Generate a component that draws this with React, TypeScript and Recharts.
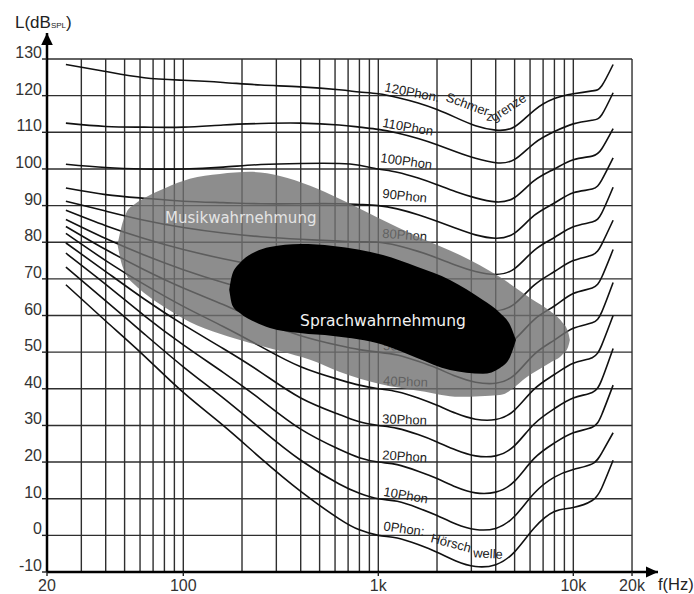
import React from "react";
import { ComposedChart, Line, Area, XAxis, YAxis, ReferenceLine, ReferenceDot, Label } from "recharts";

const FONT = "'Liberation Sans', Arial, sans-serif";
const BLOB_FONT = "'DejaVu Sans', Verdana, sans-serif";

const freqs = [25, 40, 63, 100, 160, 250, 400, 630, 800, 1000, 1250, 1600, 2000, 2500, 3150, 4000, 5000, 6300, 8000, 10000, 12500, 14000, 16000];

const phon0 = [68.4, 58.5, 49, 39, 30, 21, 12, 4.5, 1.5, 0, -0.7, -2.5, -4.6, -7, -8.5, -8, -4.5, 2, 6.5, 7.6, 9.5, 13, 20.5];
const phon10 = [73.2, 64, 55, 46, 37.5, 29, 20.5, 14, 11.5, 10, 9.3, 7.5, 5.4, 3.1, 1.6, 1.9, 5.2, 11.5, 15.9, 18, 19.5, 22.5, 28];
const phon20 = [77, 68.5, 60, 52, 44.5, 37, 29, 23.5, 21.2, 20, 19.3, 17.5, 15.5, 13.2, 11.6, 11.8, 14.8, 21, 25.2, 28, 29.5, 33, 41];
const phon30 = [79.8, 72, 64.5, 57.5, 51, 44.5, 37.5, 33, 31, 30, 29.2, 27.5, 25.5, 23.3, 21.7, 21.7, 24.5, 30.4, 34.6, 37.5, 39, 42.5, 51];
const phon40 = [82.4, 75, 68.5, 62.5, 57, 51.5, 46, 42.5, 41, 40, 39.2, 37.5, 35.5, 33.3, 31.7, 31.6, 34.2, 39.9, 43.9, 47, 48.5, 52, 60];
const phon50 = [84.3, 78, 72.5, 67.5, 63, 58.5, 54.5, 51.8, 50.7, 50, 49.2, 47.5, 45.6, 43.4, 41.8, 41.5, 43.8, 49.4, 53.3, 56.5, 58, 61, 69];
const phon60 = [86.2, 81, 76.5, 72.5, 69, 66, 63, 61.2, 60.5, 60, 59.2, 57.5, 55.6, 53.5, 51.9, 51.4, 53.5, 58.9, 62.6, 66, 67.5, 70.5, 78];
const phon70 = [88.7, 84.5, 81, 78, 75.5, 73.5, 71.8, 70.7, 70.3, 70, 69.1, 67.5, 65.6, 63.6, 61.9, 61.3, 63.2, 68.3, 72, 75, 76.5, 79.5, 86];
const phon80 = [91.2, 88.5, 86, 84, 82.5, 81.5, 80.8, 80.3, 80.1, 80, 79.1, 77.5, 75.7, 73.7, 72, 71.2, 72.8, 77.8, 81.3, 84.2, 85.5, 88, 95];
const phon90 = [94.8, 93, 92, 91.2, 90.8, 90.5, 90.5, 90.5, 90.3, 90, 89.1, 87.5, 85.7, 83.8, 82, 81.1, 82.5, 87.3, 90.7, 93.5, 94.5, 97, 103];
const phon100 = [101.3, 100.4, 100, 100, 100.5, 101.2, 101.5, 101.5, 101, 100, 99.1, 97.5, 95.7, 93.8, 92.1, 91, 92.2, 96.8, 100, 102.5, 103.5, 105.5, 111];
const phon110 = [112.5, 111.6, 111.4, 111.4, 112, 112.4, 112.5, 112, 111.4, 110.8, 109.8, 108.3, 106.6, 104.7, 102.9, 101.7, 102.6, 107, 110.2, 112.3, 113.3, 114.8, 120.8];
const phon120 = [128.5, 126.6, 124.9, 124.2, 123.6, 122.9, 122.4, 121.6, 121, 120.5, 119.5, 118, 116.2, 114, 111.8, 110.6, 111.5, 116, 119.2, 120.5, 121.3, 122.7, 128.5];

const contours = [phon0, phon10, phon20, phon30, phon40, phon50, phon60, phon70, phon80, phon90, phon100, phon110, phon120];

// "Musikwahrnehmung" area: lower / upper edge
const musikFreqs = [46, 48, 51, 56.5, 65, 81, 108, 154, 220, 313, 447, 636, 1020, 1640, 2620, 4200, 6000, 7600, 8750, 9400, 9600];
const musikLow = [79.3, 74.6, 71.1, 68.3, 65.6, 62.1, 58.2, 55, 52.5, 50.3, 47.9, 44.6, 41.3, 39.4, 37.8, 38.3, 43.8, 47.1, 49.2, 51.4, 53.3];
const musikHigh = [79.3, 83.9, 88, 90.4, 92.4, 94.8, 97.3, 98.6, 99.2, 98.1, 95.4, 91.8, 86.4, 81.2, 76.5, 70.5, 64.8, 61.2, 58.2, 55.5, 53.3];

// "Sprachwahrnehmung" area
const spracheFreqs = [172, 178, 195, 233, 278, 397, 586, 1057, 1580, 2330, 3440, 4210, 4740, 5080];
const spracheLow = [67, 62.9, 60.7, 58.2, 56.6, 55.2, 54.4, 52, 48.4, 45.1, 44.1, 45.7, 48.7, 53.3];
const spracheHigh = [67, 71.1, 74.3, 77.3, 78.7, 79.5, 79, 76.5, 73.3, 69.7, 64.2, 60.7, 57.4, 53.3];

const xTicks = [20, 100, 1000, 10000, 20000];
const yTicks = [-10, 0, 10, 20, 30, 40, 50, 60, 70, 80, 90, 100, 110, 120, 130];
const gridFreqs = [30, 40, 50, 60, 70, 80, 90, 100, 200, 300, 400, 500, 600, 700, 800, 900, 1000, 2000, 3000, 4000, 5000, 6000, 7000, 8000, 9000, 10000, 20000];
const gridLevels = [0, 10, 20, 30, 40, 50, 60, 70, 80, 90, 100, 110, 120, 130];

// text pieces written along the contours
const curveLabels = [
  { text: "120Phon:", f: 1069, db: 121.2, angle: 11 },
  { text: "Schmer", f: 2198, db: 118.6, angle: 20 },
  { text: "z", f: 3568, db: 113.2, angle: 5 },
  { text: "grenze", f: 3922, db: 112.8, angle: -33 },
  { text: "110Phon", f: 1044, db: 111.5, angle: 10 },
  { text: "100Phon", f: 1020, db: 101.9, angle: 8 },
  { text: "90Phon", f: 1044, db: 92.1, angle: 6 },
  { text: "80Phon", f: 1044, db: 81.2, angle: 4 },
  { text: "70Phon", f: 1044, db: 71.1, angle: 3 },
  { text: "60Phon", f: 1044, db: 61.3, angle: 2 },
  { text: "50Phon", f: 1057, db: 50.6, angle: 2 },
  { text: "40Phon", f: 1057, db: 41, angle: 2 },
  { text: "30Phon", f: 1044, db: 30.6, angle: 2 },
  { text: "20Phon", f: 1044, db: 20.8, angle: 4 },
  { text: "10Phon", f: 1057, db: 10.8, angle: 10 },
  { text: "0Phon:", f: 1057, db: 1.4, angle: 8 },
  { text: "Hörsch", f: 1841, db: -1.8, angle: 15 },
  { text: "welle", f: 3058, db: -6.0, angle: 3 },
];

const areaLabels = [
  { text: "Musikwahrnehmung", f: 80.6, db: 85.3 },
  { text: "Sprachwahrnehmung", f: 397, db: 57.1 },
];

const fmtFreq = (v: number) => (v >= 1000 ? `${v / 1000}k` : `${v}`);

const YTick = ({ x, y, payload }: any) => (
  <text x={x} y={y - 1} textAnchor="end" fontSize={16} fill="#333" fontFamily={FONT}>
    {payload.value}
  </text>
);

const XTick = ({ x, y, payload }: any) => (
  <text x={x} y={y + 13} textAnchor="middle" fontSize={16} fill="#333" fontFamily={FONT}>
    {fmtFreq(payload.value)}
  </text>
);

export default function App() {
  const series = contours.map((vals) => freqs.map((f, i) => ({ f, db: vals[i] })));
  const musik = musikFreqs.map((f, i) => ({ f, range: [musikLow[i], musikHigh[i]] }));
  const sprache = spracheFreqs.map((f, i) => ({ f, range: [spracheLow[i], spracheHigh[i]] }));

  return (
    <div style={{ position: "absolute", left: 0, top: 0, background: "#fff" }}>
      <ComposedChart width={694} height={594} margin={{ top: 33, right: 36, bottom: 0, left: 0 }}>
        <XAxis
          dataKey="f"
          type="number"
          scale="log"
          domain={[20, 27180]}
          allowDataOverflow
          ticks={xTicks}
          interval={0}
          height={22}
          tickSize={4}
          tickMargin={2}
          tick={<XTick />}
          tickLine={{ stroke: "#222", strokeWidth: 1.4 }}
          axisLine={{ stroke: "#000", strokeWidth: 2.5 }}
        >
          <Label
            content={() => (
              <text x={658} y={590} fontSize={16.5} fill="#222" fontFamily={FONT}>
                f(Hz)
              </text>
            )}
          />
        </XAxis>
        <YAxis
          type="number"
          domain={[-10, 137.1]}
          allowDataOverflow
          ticks={yTicks}
          interval={0}
          width={47}
          tickSize={5}
          tickMargin={0}
          tick={<YTick />}
          tickLine={{ stroke: "#222", strokeWidth: 1.4 }}
          axisLine={{ stroke: "#000", strokeWidth: 2.5 }}
        >
          <Label
            content={() => (
              <text x={15} y={28} fontSize={17} fill="#222" fontFamily={FONT}>
                L(dB
                <tspan fontSize={8}>SPL</tspan>
                <tspan fontSize={17}>)</tspan>
              </text>
            )}
          />
        </YAxis>

        {gridFreqs.map((f) => (
          <ReferenceLine
            key={`v${f}`}
            segment={[{ x: f, y: -10 }, { x: f, y: 130 }]}
            stroke="#2e2e2e"
            strokeWidth={1.4}
            zIndex={10}
          />
        ))}
        {gridLevels.map((v) => (
          <ReferenceLine
            key={`h${v}`}
            segment={[{ x: 20, y: v }, { x: 20000, y: v }]}
            stroke="#2e2e2e"
            strokeWidth={1.4}
            zIndex={10}
          />
        ))}

        {series.map((d, i) => (
          <Line
            key={`c${i}`}
            data={d}
            dataKey="db"
            type="natural"
            stroke="#111"
            strokeWidth={1.6}
            dot={false}
            activeDot={false}
            isAnimationActive={false}
            zIndex={20}
          />
        ))}

        {curveLabels.map((l, i) => (
          <ReferenceDot
            key={`l${i}`}
            x={l.f}
            y={l.db}
            r={0}
            zIndex={30}
            shape={(p: any) => (
              <text
                x={p.cx}
                y={p.cy}
                transform={`rotate(${l.angle} ${p.cx} ${p.cy})`}
                fontSize={13}
                fill="#222"
                fontFamily={FONT}
              >
                {l.text}
              </text>
            )}
          />
        ))}

        <Area
          data={musik}
          dataKey="range"
          type="monotone"
          stroke="none"
          fill="#707070"
          fillOpacity={0.8}
          dot={false}
          activeDot={false}
          isAnimationActive={false}
          zIndex={40}
        />
        <Area
          data={sprache}
          dataKey="range"
          type="monotone"
          stroke="none"
          fill="#000"
          fillOpacity={1}
          dot={false}
          activeDot={false}
          isAnimationActive={false}
          zIndex={50}
        />

        {areaLabels.map((l, i) => (
          <ReferenceDot
            key={`a${i}`}
            x={l.f}
            y={l.db}
            r={0}
            zIndex={60}
            shape={(p: any) => (
              <text x={p.cx} y={p.cy} fontSize={i === 0 ? 15 : 15.5} fill={i === 0 ? "#e4e4e4" : "#f2f2f2"} fontFamily={BLOB_FONT}>
                {l.text}
              </text>
            )}
          />
        ))}

        <ReferenceDot
          x={20}
          y={137.1}
          r={0}
          zIndex={70}
          ifOverflow="visible"
          shape={(p: any) => <path d={`M${p.cx},${p.cy} L${p.cx - 5.8},${p.cy + 12} L${p.cx + 5.8},${p.cy + 12} Z`} fill="#000" />}
        />
        <ReferenceDot
          x={27180}
          y={-10}
          r={0}
          zIndex={70}
          ifOverflow="visible"
          shape={(p: any) => <path d={`M${p.cx},${p.cy} L${p.cx - 12},${p.cy - 5.5} L${p.cx - 12},${p.cy + 5.5} Z`} fill="#000" />}
        />
      </ComposedChart>
    </div>
  );
}
